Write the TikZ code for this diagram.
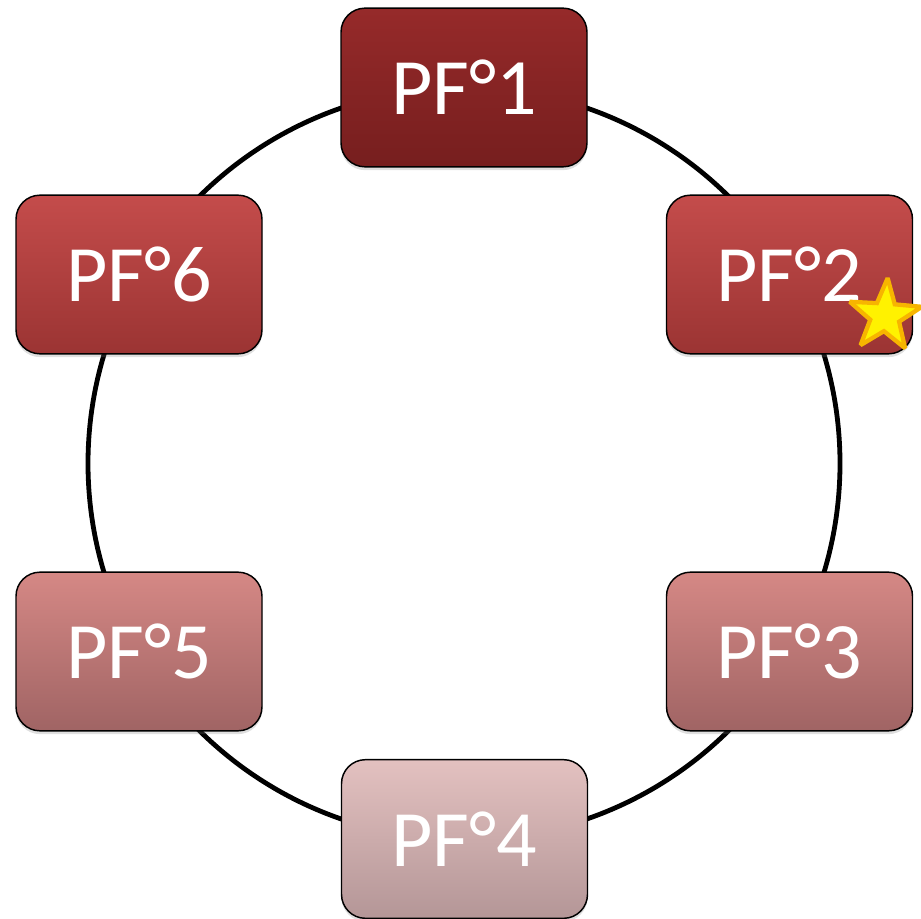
\documentclass[tikz,border=0pt]{standalone}
\usepackage{fontspec}
\setmainfont{Carlito}
\usetikzlibrary{shapes.geometric,shadows}
\definecolor{darkT}{HTML}{962A2A}\definecolor{darkB}{HTML}{761E1E}
\definecolor{midT}{HTML}{C44C4B}\definecolor{midB}{HTML}{9B3433}
\definecolor{lightT}{HTML}{D58885}\definecolor{lightB}{HTML}{A06464}
\definecolor{paleT}{HTML}{E3C1C0}\definecolor{paleB}{HTML}{B49697}
\definecolor{starline}{HTML}{F7B500}
\tikzset{
  pfbox/.style={draw=black, line width=1.1pt, rounded corners=18pt,
    minimum width=184.5pt, minimum height=119pt, inner sep=0pt,
    text=white, font=\fontsize{60}{60}\selectfont,
    drop shadow={opacity=0.25, shadow xshift=0pt, shadow yshift=-2.5pt}},
  darkbox/.style={pfbox, top color=darkT, bottom color=darkB},
  midbox/.style={pfbox, top color=midT, bottom color=midB},
  lightbox/.style={pfbox, top color=lightT, bottom color=lightB},
  palebox/.style={pfbox, top color=paleT, bottom color=paleB},
  ring/.style={line width=3.6pt, black}
}
\begin{document}
\begin{tikzpicture}[x=0.75pt,y=-0.75pt]
\useasboundingbox (0,0) rectangle (921,919);
% cycle line behind the boxes
\coordinate (hub) at (464,463.5);
\draw[ring] (hub) circle[radius=282pt];
% the six stages
\node[darkbox]  (pf1) at (464,87.5)    {PF°1};
\node[midbox]   (pf2) at (789.5,274.5) {PF°2};
\node[lightbox] (pf3) at (789.5,651.5) {PF°3};
\node[palebox]  (pf4) at (464.5,839)   {PF°4};
\node[lightbox] (pf5) at (139,651.5)   {PF°5};
\node[midbox]   (pf6) at (139,274.5)   {PF°6};
% highlight star
\node[star, star points=5, star point ratio=2.5, minimum size=57pt, inner sep=0pt,
  rotate=-4, fill=yellow, draw=starline, line width=3.2pt, miter limit=3] (mark2) at (885,316) {};
\end{tikzpicture}
\end{document}
